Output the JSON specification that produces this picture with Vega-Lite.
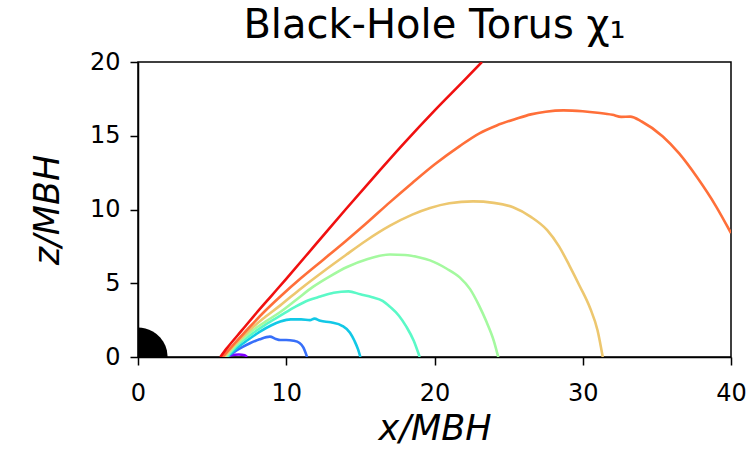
{
  "$schema": "https://vega.github.io/schema/vega-lite/v6.json",
  "autosize": {"type": "none"},
  "width": 593,
  "height": 295,
  "padding": {"left": 138, "top": 62, "right": 20, "bottom": 109},
  "background": "white",
  "config": {
    "font": "DejaVu Sans",
    "view": {"stroke": "black", "strokeWidth": 1.5},
    "axis": {
      "domainColor": "black", "domainWidth": 1.5,
      "tickColor": "black", "tickWidth": 1.5, "tickSize": 8,
      "labelColor": "black", "labelFont": "DejaVu Sans", "labelFontSize": 24, "labelFlush": false,
      "titleColor": "black", "titleFont": "DejaVu Sans", "titleFontSize": 35, "titleFontWeight": "normal",
      "grid": false
    }
  },
  "title": {
    "text": "Black-Hole Torus χ₁",
    "fontSize": 40, "fontWeight": "normal", "font": "DejaVu Sans", "color": "black",
    "anchor": "middle", "frame": "group", "baseline": "bottom", "offset": 10, "dy": 46
  },
  "datasets": {
    "torus": [
      {"s": "c0", "i": 0, "x": 6.0, "y": 0},
      {"s": "c0", "i": 1, "x": 6.3, "y": 0.12},
      {"s": "c0", "i": 2, "x": 6.8, "y": 0.17},
      {"s": "c0", "i": 3, "x": 7.2, "y": 0.12},
      {"s": "c0", "i": 4, "x": 7.35, "y": 0},

      {"s": "c1", "i": 0, "x": 6.0, "y": 0},
      {"s": "c1", "i": 1, "x": 6.5, "y": 0.35},
      {"s": "c1", "i": 2, "x": 7.0, "y": 0.65},
      {"s": "c1", "i": 3, "x": 7.55, "y": 0.93},
      {"s": "c1", "i": 4, "x": 8.2, "y": 1.2},
      {"s": "c1", "i": 5, "x": 8.9, "y": 1.38},
      {"s": "c1", "i": 6, "x": 9.3, "y": 1.22},
      {"s": "c1", "i": 7, "x": 9.6, "y": 1.15},
      {"s": "c1", "i": 8, "x": 10.0, "y": 1.15},
      {"s": "c1", "i": 9, "x": 10.5, "y": 1.1},
      {"s": "c1", "i": 10, "x": 10.9, "y": 0.95},
      {"s": "c1", "i": 11, "x": 11.15, "y": 0.65},
      {"s": "c1", "i": 12, "x": 11.3, "y": 0.3},
      {"s": "c1", "i": 13, "x": 11.4, "y": 0},

      {"s": "c2", "i": 0, "x": 6.0, "y": 0},
      {"s": "c2", "i": 1, "x": 6.6, "y": 0.55},
      {"s": "c2", "i": 2, "x": 7.4, "y": 1.15},
      {"s": "c2", "i": 3, "x": 8.2, "y": 1.7},
      {"s": "c2", "i": 4, "x": 9.0, "y": 2.15},
      {"s": "c2", "i": 5, "x": 9.6, "y": 2.4},
      {"s": "c2", "i": 6, "x": 10.3, "y": 2.55},
      {"s": "c2", "i": 7, "x": 11.0, "y": 2.55},
      {"s": "c2", "i": 8, "x": 11.6, "y": 2.5},
      {"s": "c2", "i": 9, "x": 11.9, "y": 2.6},
      {"s": "c2", "i": 10, "x": 12.3, "y": 2.45},
      {"s": "c2", "i": 11, "x": 13.0, "y": 2.35},
      {"s": "c2", "i": 12, "x": 13.8, "y": 2.1},
      {"s": "c2", "i": 13, "x": 14.3, "y": 1.65},
      {"s": "c2", "i": 14, "x": 14.6, "y": 1.1},
      {"s": "c2", "i": 15, "x": 14.85, "y": 0.5},
      {"s": "c2", "i": 16, "x": 15.0, "y": 0},

      {"s": "c3", "i": 0, "x": 6.0, "y": 0},
      {"s": "c3", "i": 1, "x": 6.6, "y": 0.7},
      {"s": "c3", "i": 2, "x": 7.6, "y": 1.5},
      {"s": "c3", "i": 3, "x": 8.6, "y": 2.2},
      {"s": "c3", "i": 4, "x": 9.6, "y": 2.8},
      {"s": "c3", "i": 5, "x": 10.6, "y": 3.4},
      {"s": "c3", "i": 6, "x": 11.5, "y": 3.85},
      {"s": "c3", "i": 7, "x": 12.3, "y": 4.1},
      {"s": "c3", "i": 8, "x": 13.2, "y": 4.35},
      {"s": "c3", "i": 9, "x": 14.2, "y": 4.45},
      {"s": "c3", "i": 10, "x": 15.0, "y": 4.25},
      {"s": "c3", "i": 11, "x": 15.8, "y": 4.05},
      {"s": "c3", "i": 12, "x": 16.5, "y": 3.8},
      {"s": "c3", "i": 13, "x": 17.0, "y": 3.4},
      {"s": "c3", "i": 14, "x": 17.6, "y": 2.8},
      {"s": "c3", "i": 15, "x": 18.1, "y": 2.06},
      {"s": "c3", "i": 16, "x": 18.6, "y": 1.1},
      {"s": "c3", "i": 17, "x": 19.0, "y": 0},

      {"s": "c4", "i": 0, "x": 5.9, "y": 0},
      {"s": "c4", "i": 1, "x": 6.6, "y": 0.8},
      {"s": "c4", "i": 2, "x": 7.6, "y": 1.7},
      {"s": "c4", "i": 3, "x": 8.6, "y": 2.4},
      {"s": "c4", "i": 4, "x": 9.6, "y": 3.05},
      {"s": "c4", "i": 5, "x": 10.7, "y": 3.9},
      {"s": "c4", "i": 6, "x": 11.8, "y": 4.75},
      {"s": "c4", "i": 7, "x": 13.0, "y": 5.5},
      {"s": "c4", "i": 8, "x": 14.1, "y": 6.1},
      {"s": "c4", "i": 9, "x": 15.5, "y": 6.65},
      {"s": "c4", "i": 10, "x": 17.0, "y": 6.95},
      {"s": "c4", "i": 11, "x": 18.0, "y": 6.92},
      {"s": "c4", "i": 12, "x": 19.0, "y": 6.75},
      {"s": "c4", "i": 13, "x": 19.7, "y": 6.55},
      {"s": "c4", "i": 14, "x": 20.8, "y": 6.0},
      {"s": "c4", "i": 15, "x": 21.7, "y": 5.4},
      {"s": "c4", "i": 16, "x": 22.4, "y": 4.6},
      {"s": "c4", "i": 17, "x": 23.0, "y": 3.5},
      {"s": "c4", "i": 18, "x": 23.5, "y": 2.4},
      {"s": "c4", "i": 19, "x": 24.0, "y": 1.1},
      {"s": "c4", "i": 20, "x": 24.3, "y": 0},

      {"s": "c5", "i": 0, "x": 5.8, "y": 0},
      {"s": "c5", "i": 1, "x": 6.5, "y": 0.8},
      {"s": "c5", "i": 2, "x": 7.5, "y": 1.8},
      {"s": "c5", "i": 3, "x": 8.5, "y": 2.65},
      {"s": "c5", "i": 4, "x": 9.6, "y": 3.5},
      {"s": "c5", "i": 5, "x": 11.0, "y": 4.65},
      {"s": "c5", "i": 6, "x": 12.5, "y": 5.8},
      {"s": "c5", "i": 7, "x": 14.0, "y": 6.9},
      {"s": "c5", "i": 8, "x": 15.4, "y": 7.9},
      {"s": "c5", "i": 9, "x": 17.0, "y": 8.9},
      {"s": "c5", "i": 10, "x": 18.5, "y": 9.65},
      {"s": "c5", "i": 11, "x": 19.7, "y": 10.1},
      {"s": "c5", "i": 12, "x": 21.0, "y": 10.42},
      {"s": "c5", "i": 13, "x": 22.6, "y": 10.55},
      {"s": "c5", "i": 14, "x": 24.0, "y": 10.45},
      {"s": "c5", "i": 15, "x": 25.3, "y": 10.15},
      {"s": "c5", "i": 16, "x": 26.5, "y": 9.5},
      {"s": "c5", "i": 17, "x": 27.6, "y": 8.6},
      {"s": "c5", "i": 18, "x": 28.4, "y": 7.5},
      {"s": "c5", "i": 19, "x": 29.1, "y": 6.2},
      {"s": "c5", "i": 20, "x": 29.8, "y": 4.8},
      {"s": "c5", "i": 21, "x": 30.5, "y": 3.3},
      {"s": "c5", "i": 22, "x": 31.0, "y": 1.8},
      {"s": "c5", "i": 23, "x": 31.35, "y": 0},

      {"s": "c6", "i": 0, "x": 5.7, "y": 0},
      {"s": "c6", "i": 1, "x": 6.5, "y": 0.9},
      {"s": "c6", "i": 2, "x": 7.5, "y": 2.0},
      {"s": "c6", "i": 3, "x": 8.5, "y": 3.05},
      {"s": "c6", "i": 4, "x": 9.6, "y": 4.1},
      {"s": "c6", "i": 5, "x": 11.0, "y": 5.35},
      {"s": "c6", "i": 6, "x": 12.5, "y": 6.6},
      {"s": "c6", "i": 7, "x": 14.0, "y": 7.85},
      {"s": "c6", "i": 8, "x": 15.5, "y": 9.15},
      {"s": "c6", "i": 9, "x": 17.0, "y": 10.5},
      {"s": "c6", "i": 10, "x": 18.5, "y": 11.8},
      {"s": "c6", "i": 11, "x": 20.0, "y": 13.05},
      {"s": "c6", "i": 12, "x": 21.7, "y": 14.3},
      {"s": "c6", "i": 13, "x": 23.0, "y": 15.15},
      {"s": "c6", "i": 14, "x": 24.2, "y": 15.7},
      {"s": "c6", "i": 15, "x": 25.5, "y": 16.15},
      {"s": "c6", "i": 16, "x": 26.5, "y": 16.45},
      {"s": "c6", "i": 17, "x": 27.5, "y": 16.63},
      {"s": "c6", "i": 18, "x": 28.7, "y": 16.72},
      {"s": "c6", "i": 19, "x": 30.0, "y": 16.66},
      {"s": "c6", "i": 20, "x": 31.0, "y": 16.56},
      {"s": "c6", "i": 21, "x": 32.0, "y": 16.42},
      {"s": "c6", "i": 22, "x": 32.6, "y": 16.28},
      {"s": "c6", "i": 23, "x": 33.2, "y": 16.3},
      {"s": "c6", "i": 24, "x": 34.0, "y": 15.95},
      {"s": "c6", "i": 25, "x": 35.4, "y": 14.95},
      {"s": "c6", "i": 26, "x": 36.5, "y": 13.8},
      {"s": "c6", "i": 27, "x": 37.7, "y": 12.2},
      {"s": "c6", "i": 28, "x": 39.0, "y": 10.2},
      {"s": "c6", "i": 29, "x": 40.0, "y": 8.4},

      {"s": "c7", "i": 0, "x": 5.55, "y": 0},
      {"s": "c7", "i": 1, "x": 6.0, "y": 0.6},
      {"s": "c7", "i": 2, "x": 7.0, "y": 1.8},
      {"s": "c7", "i": 3, "x": 8.0, "y": 3.0},
      {"s": "c7", "i": 4, "x": 9.0, "y": 4.15},
      {"s": "c7", "i": 5, "x": 10.0, "y": 5.3},
      {"s": "c7", "i": 6, "x": 12.0, "y": 7.65},
      {"s": "c7", "i": 7, "x": 14.0, "y": 10.0},
      {"s": "c7", "i": 8, "x": 16.0, "y": 12.3},
      {"s": "c7", "i": 9, "x": 18.0, "y": 14.55},
      {"s": "c7", "i": 10, "x": 20.0, "y": 16.7},
      {"s": "c7", "i": 11, "x": 22.0, "y": 18.75},
      {"s": "c7", "i": 12, "x": 23.2, "y": 20.0}
    ],
    "bh": [
      {"x": 0, "y": 2.0},
      {"x": 0.25, "y": 1.984},
      {"x": 0.5, "y": 1.936},
      {"x": 0.75, "y": 1.854},
      {"x": 1.0, "y": 1.732},
      {"x": 1.25, "y": 1.561},
      {"x": 1.5, "y": 1.323},
      {"x": 1.7, "y": 1.054},
      {"x": 1.85, "y": 0.760},
      {"x": 1.95, "y": 0.444},
      {"x": 2.0, "y": 0}
    ]
  },
  "layer": [
    {
      "data": {"name": "bh"},
      "mark": {"type": "area", "color": "black", "clip": true},
      "encoding": {
        "x": {"field": "x", "type": "quantitative", "scale": {"domain": [0, 40]},
              "axis": {"title": "x/MBH", "titleFontStyle": "italic", "values": [0, 10, 20, 30, 40], "labelPadding": 16, "titlePadding": 6}},
        "y": {"field": "y", "type": "quantitative", "scale": {"domain": [0, 20]},
              "axis": {"title": "z/MBH", "titleFontStyle": "italic", "values": [0, 5, 10, 15, 20], "labelPadding": 10, "titlePadding": 24}}
      }
    },
    {
      "data": {"name": "torus"},
      "mark": {"type": "line", "strokeWidth": 2.6, "clip": true, "interpolate": "monotone"},
      "encoding": {
        "x": {"field": "x", "type": "quantitative"},
        "y": {"field": "y", "type": "quantitative"},
        "order": {"field": "i", "type": "quantitative"},
        "color": {"field": "s", "type": "nominal", "legend": null,
                  "scale": {"domain": ["c0", "c1", "c2", "c3", "c4", "c5", "c6", "c7"],
                            "range": ["#8000ff", "#376ff9", "#12c8e6", "#5bf9c7", "#a4f99f", "#edc76f", "#ff6f39", "#f01010"]}}
      }
    }
  ]
}
